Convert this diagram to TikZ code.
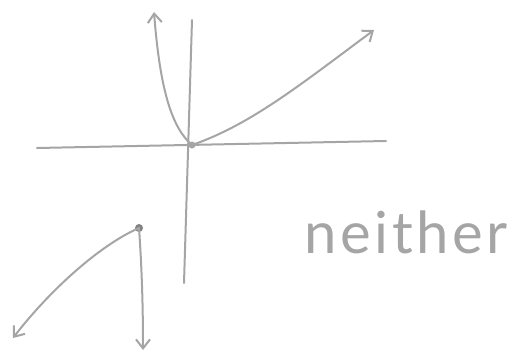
\documentclass[tikz,border=0pt]{standalone}
\usepackage{fontspec}
\setmainfont{Lato}
\usetikzlibrary{arrows.meta}
\definecolor{pencil}{RGB}{165,165,165}
\definecolor{pencildark}{RGB}{130,130,130}
\tikzset{
  stroke/.style={draw=pencil, line width=2pt, line cap=round, line join=round},
  arr/.style={stroke, -{Straight Barb[length=9pt,width=14pt,line width=2pt]}},
  dotpt/.style={circle, fill=pencildark, inner sep=0pt, minimum size=8pt},
  label/.style={text=pencil, font=\fontsize{58}{60}\selectfont\addfontfeatures{LetterSpace=6}}
}
\begin{document}
\begin{tikzpicture}[x=1pt,y=-1pt]
\useasboundingbox (0,0) rectangle (519,353);
% axes
\coordinate (xl) at (37,148);
\coordinate (xr) at (386,141);
\coordinate (yt) at (192,20);
\coordinate (yb) at (184,283);
\draw[stroke] (xl) -- (xr);
\draw[stroke] (yt) -- (yb);
% origin
\node[dotpt, minimum size=7pt, fill=pencil] (o) at (192,145) {};
% left branch
\coordinate (lt) at (154,12);
\draw[arr] (o.center) .. controls (172,128) and (160,90) .. (lt);
% right branch
\coordinate (rt) at (374,30);
\draw[arr] (o.center) .. controls (250,125) and (300,85) .. (rt);
% lower piece
\node[dotpt] (p) at (139,228) {};
\coordinate (bl) at (13,338);
\coordinate (bd) at (143,350);
\draw[arr] (p.center) .. controls (100,245) and (50,290) .. (bl);
\draw[arr] (p.center) .. controls (142,270) and (143,310) .. (bd);
% label
\node[label, anchor=base] (t) at (406,253) {neither};
\end{tikzpicture}
\end{document}
